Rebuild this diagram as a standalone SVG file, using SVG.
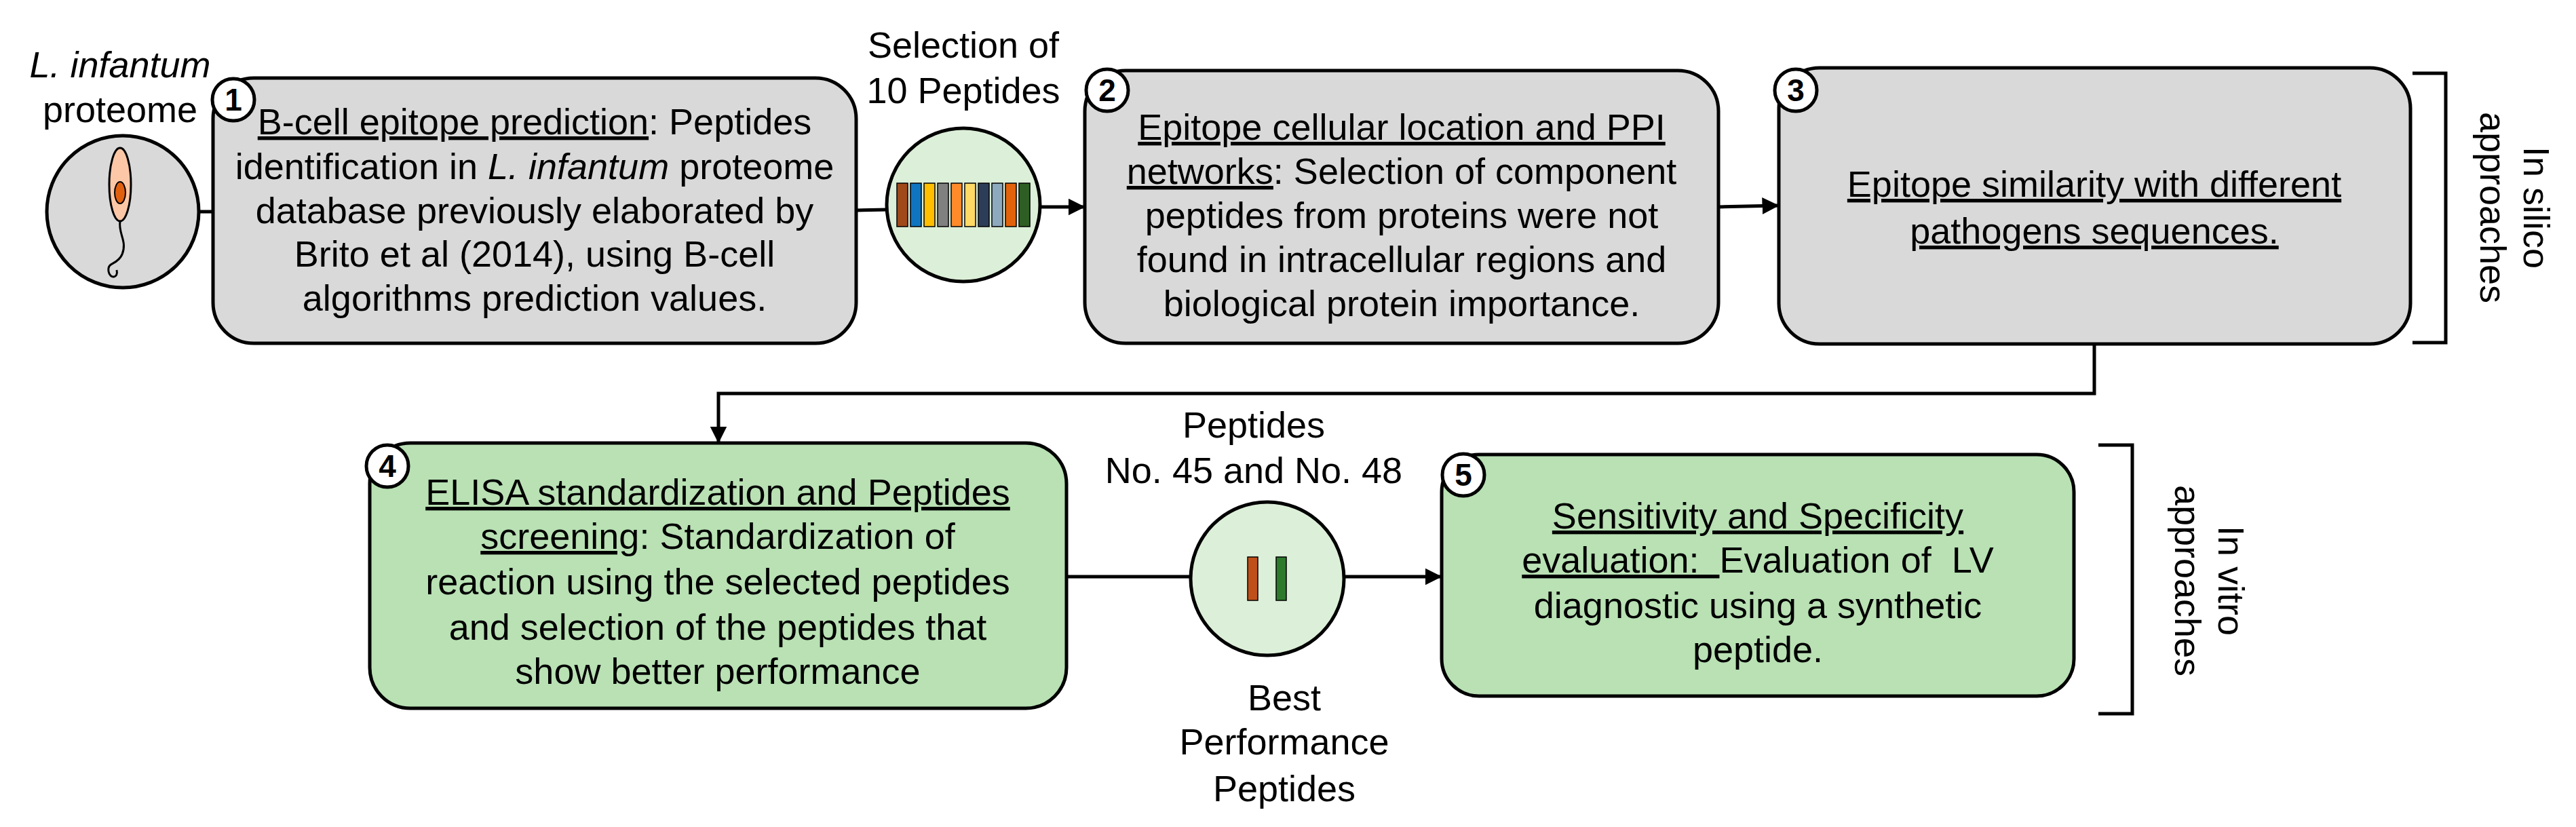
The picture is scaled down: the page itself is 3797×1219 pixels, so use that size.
<svg xmlns="http://www.w3.org/2000/svg" width="3797" height="1219" viewBox="0 0 3797 1219">
<defs>
<style>
text{font-family:"Liberation Sans",Arial,sans-serif;font-size:54px;fill:#000}
.c{text-anchor:middle}
.u{text-decoration:underline}
.box{stroke:#000;stroke-width:5}
.g{fill:#d9d9d9}
.gr{fill:#b9e1b4}
.pc{fill:#dcefd8;stroke:#000;stroke-width:5}
.ln{fill:none;stroke:#000;stroke-width:5}
.bd{fill:#fff;stroke:#000;stroke-width:5}
.bn{font-weight:bold;font-size:46px;text-anchor:middle}
.bar{stroke:#000;stroke-width:1.5}
</style>
<marker id="a2" viewBox="0 0 10 10" refX="9" refY="5" markerWidth="5" markerHeight="5" orient="auto"><path d="M0,0L10,5L0,10z"/></marker>
</defs>

<g id="connectors">
<line class="ln" x1="294" y1="312" x2="314" y2="312"/>
<line class="ln" x1="1262" y1="310" x2="1308" y2="309"/>
<line class="ln" x1="1533" y1="305" x2="1597" y2="305" marker-end="url(#a2)"/>
<line class="ln" x1="2533" y1="305" x2="2620" y2="303" marker-end="url(#a2)"/>
<polyline class="ln" points="3087,507 3087,580 1059,580 1059,651" marker-end="url(#a2)"/>
<line class="ln" x1="1572" y1="850" x2="1755" y2="850"/>
<line class="ln" x1="1982" y1="850" x2="2123" y2="850" marker-end="url(#a2)"/>
</g>

<g id="proteome">
<text class="c" x="177" y="114"><tspan font-style="italic">L. infantum</tspan></text>
<text class="c" x="177" y="180">proteome</text>
<circle cx="181" cy="312" r="112" fill="#d9d9d9" stroke="#000" stroke-width="5"/>
<ellipse cx="177" cy="272" rx="16" ry="54" fill="#fcc7a6" stroke="#000" stroke-width="3"/>
<ellipse cx="177" cy="284" rx="8" ry="16" fill="#e0600f" stroke="#000" stroke-width="2"/>
<path d="M177,326 C174,345 188,355 180,375 C172,392 158,385 160,400 C162,412 175,410 172,398" fill="none" stroke="#000" stroke-width="3"/>
</g>

<g id="node1">
<rect class="box g" x="314" y="115" width="948" height="391" rx="60"/>
<text class="c" x="788" y="198"><tspan class="u">B-cell epitope prediction</tspan>: Peptides</text>
<text class="c" x="788" y="264">identification in <tspan font-style="italic">L. infantum</tspan> proteome</text>
<text class="c" x="788" y="329">database previously elaborated by</text>
<text class="c" x="788" y="393">Brito et al (2014), using B-cell</text>
<text class="c" x="788" y="458">algorithms prediction values.</text>
<circle class="bd" cx="344" cy="147" r="31"/>
<text class="bn" x="344" y="163">1</text>
</g>

<g id="selection10">
<text class="c" x="1420" y="85">Selection of</text>
<text class="c" x="1420" y="152">10 Peptides</text>
<circle class="pc" cx="1420" cy="302" r="113"/>
<g class="bar">
<rect x="1322" y="270" width="16" height="64" fill="#a0491a"/>
<rect x="1342" y="270" width="16" height="64" fill="#0f75c0"/>
<rect x="1362" y="270" width="16" height="64" fill="#ffbf00"/>
<rect x="1382" y="270" width="16" height="64" fill="#808080"/>
<rect x="1402" y="270" width="16" height="64" fill="#ff8a2a"/>
<rect x="1422" y="270" width="16" height="64" fill="#ffd966"/>
<rect x="1442" y="270" width="16" height="64" fill="#2c3e57"/>
<rect x="1462" y="270" width="16" height="64" fill="#8da9bd"/>
<rect x="1482" y="270" width="16" height="64" fill="#e2620b"/>
<rect x="1502" y="270" width="16" height="64" fill="#2e5e23"/>
</g>
</g>

<g id="node2">
<rect class="box g" x="1599" y="104" width="934" height="402" rx="60"/>
<text class="c" x="2066" y="206"><tspan class="u">Epitope cellular location and PPI</tspan></text>
<text class="c" x="2066" y="271"><tspan class="u">networks</tspan>: Selection of component</text>
<text class="c" x="2066" y="336">peptides from proteins were not</text>
<text class="c" x="2066" y="401">found in intracellular regions and</text>
<text class="c" x="2066" y="466">biological protein importance.</text>
<circle class="bd" cx="1632" cy="133" r="31"/>
<text class="bn" x="1632" y="149">2</text>
</g>

<g id="node3">
<rect class="box g" x="2622" y="100" width="931" height="407" rx="60"/>
<text class="c" x="3087" y="290"><tspan class="u">Epitope similarity with different</tspan></text>
<text class="c" x="3087" y="359"><tspan class="u">pathogens sequences.</tspan></text>
<circle class="bd" cx="2647" cy="133" r="31"/>
<text class="bn" x="2647" y="149">3</text>
</g>

<g id="insilico">
<polyline class="ln" points="3556,108 3605,108 3605,505 3556,505"/>
<text class="c" transform="translate(3720,306) rotate(90)">In silico</text>
<text class="c" transform="translate(3656,306) rotate(90)">approaches</text>
</g>

<g id="node4">
<rect class="box gr" x="545" y="653" width="1027" height="391" rx="60"/>
<text class="c" x="1058" y="744"><tspan class="u">ELISA standardization and Peptides</tspan></text>
<text class="c" x="1058" y="809"><tspan class="u">screening</tspan>: Standardization of</text>
<text class="c" x="1058" y="876">reaction using the selected peptides</text>
<text class="c" x="1058" y="943">and selection of the peptides that</text>
<text class="c" x="1058" y="1008">show better performance</text>
<circle class="bd" cx="571" cy="687" r="31"/>
<text class="bn" x="571" y="703">4</text>
</g>

<g id="best">
<text class="c" x="1848" y="645">Peptides</text>
<text class="c" x="1848" y="712">No. 45 and No. 48</text>
<circle class="pc" cx="1868" cy="853" r="113"/>
<rect class="bar" x="1839" y="821" width="15" height="64" fill="#c0501a"/>
<rect class="bar" x="1881" y="821" width="15" height="64" fill="#2d7a2d"/>
<text class="c" x="1893" y="1047">Best</text>
<text class="c" x="1893" y="1112">Performance</text>
<text class="c" x="1893" y="1181">Peptides</text>
</g>

<g id="node5">
<rect class="box gr" x="2125" y="670" width="932" height="356" rx="55"/>
<text class="c" x="2591" y="779"><tspan class="u">Sensitivity and Specificity</tspan></text>
<text class="c" x="2591" y="844" xml:space="preserve"><tspan class="u">evaluation:  </tspan>Evaluation of  LV</text>
<text class="c" x="2591" y="911">diagnostic using a synthetic</text>
<text class="c" x="2591" y="976">peptide.</text>
<circle class="bd" cx="2157" cy="700" r="31"/>
<text class="bn" x="2157" y="716">5</text>
</g>

<g id="invitro">
<polyline class="ln" points="3093,656 3143,656 3143,1052 3093,1052"/>
<text class="c" transform="translate(3270,856) rotate(90)">In vitro</text>
<text class="c" transform="translate(3206,856) rotate(90)">approaches</text>
</g>
</svg>
